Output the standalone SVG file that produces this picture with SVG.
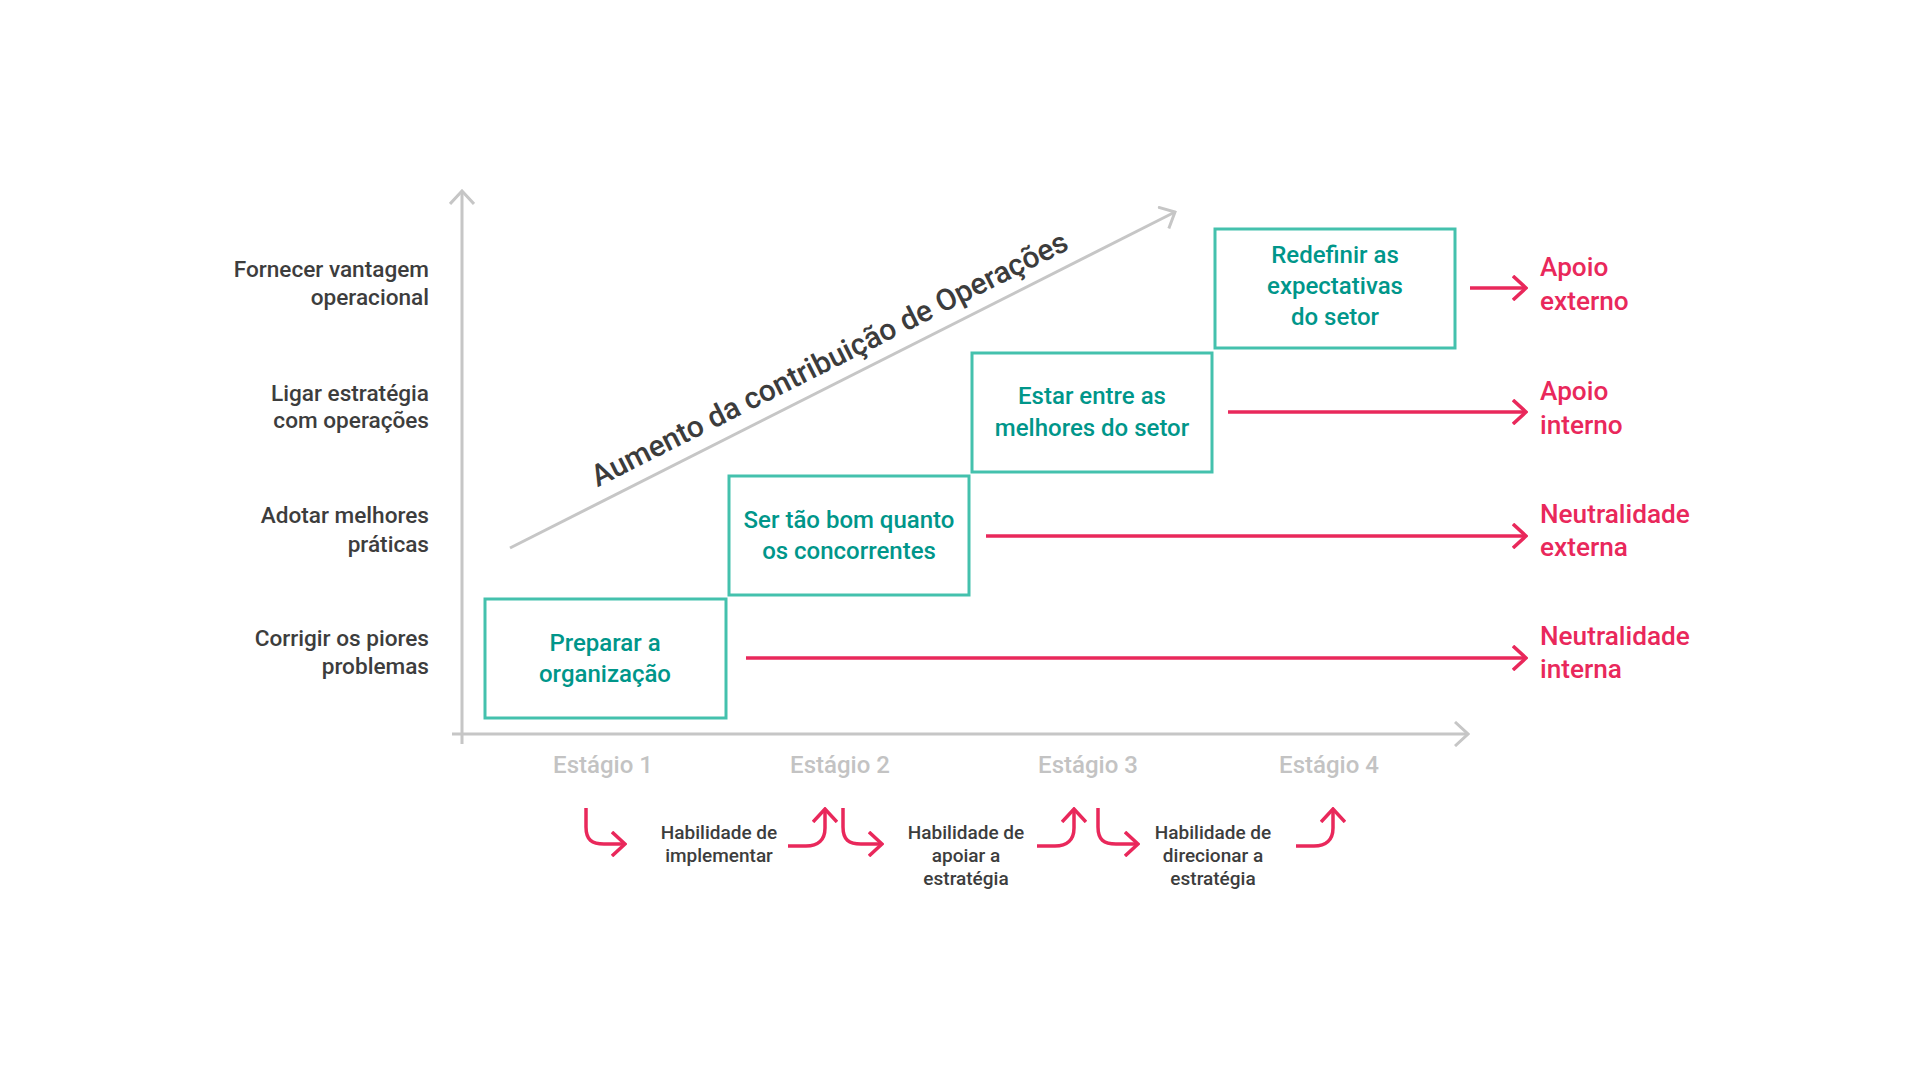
<svg xmlns="http://www.w3.org/2000/svg" width="1920" height="1080" viewBox="0 0 1920 1080">
<style>
  text { font-family: Roboto, "Open Sans", "Liberation Sans", sans-serif; font-weight: 500; }
  .ylab { font-size: 22.6px; fill: #3d3d3d; text-anchor: end; }
  .box { fill: none; stroke: #44c1ad; stroke-width: 3; }
  .btxt { font-size: 24px; fill: #00968a; text-anchor: middle; }
  .rtxt { font-size: 26.2px; fill: #e9285b; }
  .stage { font-size: 24px; fill: #c3c3c3; text-anchor: middle; }
  .hab { font-size: 19px; fill: #3d3d3d; text-anchor: middle; }
  .diag { font-size: 30px; fill: #3c3c3c; text-anchor: middle; }
  .axis { fill: none; stroke: #c6c6c6; stroke-width: 3; }
  .red { fill: none; stroke: #e9285b; stroke-width: 3.5; }
</style>
<defs>
  <marker id="chevGrey" viewBox="0 0 16 26" refX="14" refY="13" markerWidth="16" markerHeight="26" markerUnits="userSpaceOnUse" orient="auto">
    <path d="M1,1 L14,13 L1,25" fill="none" stroke="#c6c6c6" stroke-width="3"/>
  </marker>
  <marker id="chevRed" viewBox="0 0 16 26" refX="14" refY="13" markerWidth="16" markerHeight="26" markerUnits="userSpaceOnUse" orient="auto">
    <path d="M1,1 L14,13 L1,25" fill="none" stroke="#e9285b" stroke-width="3.5"/>
  </marker>
</defs>
<rect width="1920" height="1080" fill="#ffffff"/>

<g id="axes">
  <path class="axis" d="M462,744 L462,191" marker-end="url(#chevGrey)"/>
  <path class="axis" d="M452,734 L1468,734" marker-end="url(#chevGrey)"/>
  <path class="axis" d="M510,548 L1175,212" marker-end="url(#chevGrey)"/>
  <text class="diag" x="834" y="368" transform="rotate(-26.77 834 368)">Aumento da contribuição de Operações</text>
</g>

<g id="y-labels">
  <text class="ylab" x="429" y="277">Fornecer vantagem</text>
  <text class="ylab" x="429" y="305">operacional</text>
  <text class="ylab" x="429" y="401">Ligar estratégia</text>
  <text class="ylab" x="429" y="428">com operações</text>
  <text class="ylab" x="429" y="523">Adotar melhores</text>
  <text class="ylab" x="429" y="552">práticas</text>
  <text class="ylab" x="429" y="646">Corrigir os piores</text>
  <text class="ylab" x="429" y="674">problemas</text>
</g>

<g id="node-preparar">
  <rect class="box" x="485" y="599" width="241" height="119"/>
  <text class="btxt" x="605" y="651">Preparar a</text>
  <text class="btxt" x="605" y="682">organização</text>
</g>
<g id="node-ser-tao-bom">
  <rect class="box" x="729" y="476" width="240" height="119"/>
  <text class="btxt" x="849" y="528">Ser tão bom quanto</text>
  <text class="btxt" x="849" y="559">os concorrentes</text>
</g>
<g id="node-estar-entre">
  <rect class="box" x="972" y="353" width="240" height="119"/>
  <text class="btxt" x="1092" y="404">Estar entre as</text>
  <text class="btxt" x="1092" y="436">melhores do setor</text>
</g>
<g id="node-redefinir">
  <rect class="box" x="1215" y="229" width="240" height="119"/>
  <text class="btxt" x="1335" y="263">Redefinir as</text>
  <text class="btxt" x="1335" y="294">expectativas</text>
  <text class="btxt" x="1335" y="325">do setor</text>
</g>

<g id="outcomes">
  <text class="rtxt" x="1540" y="276">Apoio</text>
  <text class="rtxt" x="1540" y="310">externo</text>
  <text class="rtxt" x="1540" y="400">Apoio</text>
  <text class="rtxt" x="1540" y="434">interno</text>
  <text class="rtxt" x="1540" y="523">Neutralidade</text>
  <text class="rtxt" x="1540" y="556">externa</text>
  <text class="rtxt" x="1540" y="645">Neutralidade</text>
  <text class="rtxt" x="1540" y="678">interna</text>
</g>

<g id="stages">
  <text class="stage" x="603" y="773">Estágio 1</text>
  <text class="stage" x="840" y="773">Estágio 2</text>
  <text class="stage" x="1088" y="773">Estágio 3</text>
  <text class="stage" x="1329" y="773">Estágio 4</text>
</g>

<g id="abilities">
  <text class="hab" x="719" y="839">Habilidade de</text>
  <text class="hab" x="719" y="862">implementar</text>
  <text class="hab" x="966" y="839">Habilidade de</text>
  <text class="hab" x="966" y="862">apoiar a</text>
  <text class="hab" x="966" y="885">estratégia</text>
  <text class="hab" x="1213" y="839">Habilidade de</text>
  <text class="hab" x="1213" y="862">direcionar a</text>
  <text class="hab" x="1213" y="885">estratégia</text>
</g>

<g id="connectors">
  <path class="red" d="M1470,288 L1526,288" marker-end="url(#chevRed)"/>
  <path class="red" d="M1228,412 L1526,412" marker-end="url(#chevRed)"/>
  <path class="red" d="M986,536 L1526,536" marker-end="url(#chevRed)"/>
  <path class="red" d="M746,658 L1526,658" marker-end="url(#chevRed)"/>

  <path class="red" d="M586,808 L586,827 C586,840 592,844 604,844 L625,844" marker-end="url(#chevRed)"/>
  <path class="red" d="M788,846 L806,846 C818,846 825,840 825,828 L825,809" marker-end="url(#chevRed)"/>
  <path class="red" d="M843,808 L843,827 C843,840 849,844 861,844 L882,844" marker-end="url(#chevRed)"/>
  <path class="red" d="M1037,846 L1055,846 C1067,846 1074,840 1074,828 L1074,809" marker-end="url(#chevRed)"/>
  <path class="red" d="M1098,808 L1098,827 C1098,840 1104,844 1116,844 L1138,844" marker-end="url(#chevRed)"/>
  <path class="red" d="M1296,846 L1314,846 C1326,846 1333,840 1333,828 L1333,809" marker-end="url(#chevRed)"/>
</g>
</svg>
